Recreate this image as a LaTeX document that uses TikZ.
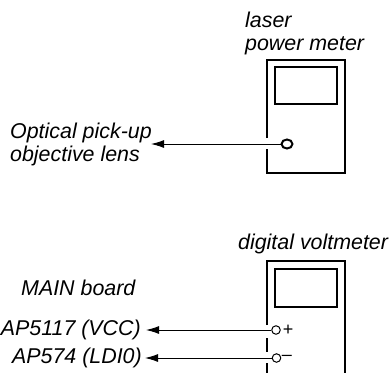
\documentclass[tikz,border=0pt]{standalone}
\usepackage{fontspec}
\setmainfont{Liberation Sans}
\usetikzlibrary{arrows.meta,shapes.geometric}
\tikzset{
  caption/.style={font=\fontsize{21.4}{23}\selectfont\itshape,inner sep=0pt,align=left},
  polarity/.style={font=\fontsize{18}{18}\selectfont,inner sep=0pt,anchor=west},
  meterline/.style={line width=2pt},
  lead/.style={line width=1pt,{Latex[length=13pt,width=8pt]}-},
  terminal/.style={circle,draw,line width=1pt,fill=white,minimum size=8.5pt,inner sep=0pt},
}
\begin{document}
\begin{tikzpicture}[x=1pt,y=-1pt]
  \useasboundingbox (0,0) rectangle (389,373);
  % laser power meter
  \draw[meterline] (267,138) -- (267,60) -- (345,60) -- (345,173) -- (267,173) -- (267,149);
  \draw[meterline] (275,67) rectangle (337,104);
  \node[caption,anchor=west] (lasercap) at (245,33.5) {laser\\power meter};
  \node[ellipse,draw,fill=white,inner sep=0pt,line width=2pt,minimum width=11pt,minimum height=9pt] (lasert) at (287,144) {};
  \node[caption,anchor=west] (lenscap) at (10,144) {Optical pick-up\\objective lens};
  \coordinate (lenstip) at (151,144);
  \draw[lead] (lenstip) -- (lasert);
  % digital voltmeter
  \draw[meterline] (267,325) -- (267,261) -- (345,261) -- (345,373);
  \draw[meterline] (267,338) -- (267,352);
  \draw[meterline] (267,363) -- (267,373);
  \draw[meterline] (275,269) rectangle (337,307);
  \node[caption,anchor=west] (voltcap) at (238,244) {digital voltmeter};
  \node[caption,anchor=west] (maincap) at (21,288) {MAIN board};
  \node[terminal] (vplus) at (276,330) {};
  \node[terminal] (vminus) at (276.5,358) {};
  \node[polarity,xshift=2pt] (plus) at (vplus.east) {+};
  \node[polarity,xshift=0.5pt] (minus) at (vminus.east) {--};
  \node[caption,anchor=east] (vcccap) at (141,330) {AP5117 (VCC)};
  \node[caption,anchor=east] (ldicap) at (142,358) {AP574 (LDI0)};
  \coordinate (vcctip) at (146,330);
  \coordinate (lditip) at (145,358);
  \draw[lead] (vcctip) -- (vplus);
  \draw[lead] (lditip) -- (vminus);
\end{tikzpicture}
\end{document}
